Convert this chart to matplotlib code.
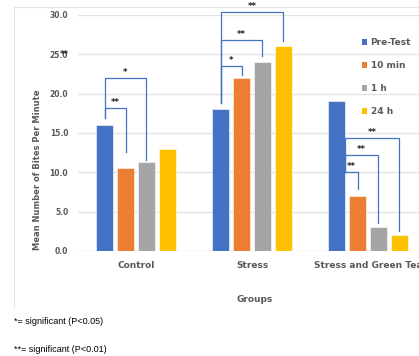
import matplotlib
matplotlib.use("Agg")
import matplotlib.pyplot as plt
from matplotlib.patches import Patch
from matplotlib.lines import Line2D
import numpy as np

groups = ["Control", "Stress", "Stress and Green Tea"]
series = ["Pre-Test", "10 min", "1 h", "24 h"]
pre_test = [16.0, 18.0, 19.1]
min10 = [10.6, 22.0, 7.0]
h1 = [11.3, 24.0, 3.0]
h24 = [13.0, 26.0, 2.0]
yticks = [0.0, 5.0, 10.0, 15.0, 20.0, 25.0, 30.0]
colors = ["#4472C4", "#ED7D31", "#A5A5A5", "#FFC000"]

# significance brackets: (group, target series index, level, label, left_bottom, right_bottom)
brackets = [
    (0, 1, 18.2, "**", 16.9, 12.6),
    (0, 2, 22.0, "*", 16.9, 11.6),
    (1, 1, 23.5, "*", 18.8, 22.4),
    (1, 2, 26.8, "**", 18.8, 24.8),
    (1, 3, 30.4, "**", 18.8, 26.7),
    (2, 1, 10.0, "**", 10.0, 7.9),
    (2, 2, 12.2, "**", 10.0, 3.6),
    (2, 3, 14.4, "**", 10.0, 2.5),
]

W, H = 419, 356
fig = plt.figure(figsize=(W / 100, H / 100), dpi=100)
ax = fig.add_axes([78 / W, 1 - 251 / H, 348 / W, 236 / H])

data = [pre_test, min10, h1, h24]
x = np.arange(len(groups))
stride = 0.181
width = 0.147
offsets = (np.arange(4) - 1.5) * stride
for i, (vals, c) in enumerate(zip(data, colors)):
    ax.bar(x + offsets[i], vals, width=width, color=c, zorder=3,
           edgecolor="white", linewidth=0.4, label=series[i])

ax.set_xlim(-0.5, 2.5)
ax.set_ylim(0, 30)
ax.set_yticks(yticks)
ax.set_yticklabels([f"{v:.1f}" for v in yticks])
ax.grid(axis="y", color="#E3E3E3", linewidth=1.0, zorder=0)
for s in ax.spines.values():
    s.set_visible(False)
ax.tick_params(length=0, labelsize=5.5, labelcolor="#595959")
for lab in ax.get_yticklabels():
    lab.set_fontweight("bold")
ax.tick_params(axis="y", pad=7)
ax.set_xticks(x)
ax.set_xticklabels(groups, fontsize=6.5, fontweight="bold", color="#595959")
ax.tick_params(axis="x", pad=7)

line_c = "#4472C4"
for g, t, lvl, lab, lb, rb in brackets:
    if g == 2:
        xl = x[g] + offsets[0] + width / 2
    else:
        xl = x[g] + offsets[0]
    xr = x[g] + offsets[t]
    ax.plot([xl, xl, xr, xr], [lb, lvl, lvl, rb], color=line_c, lw=0.9,
            clip_on=False, zorder=4)
    ax.text((xl + xr) / 2, lvl + 0.15, lab, ha="center", va="bottom",
            fontsize=6, fontweight="bold", color="#222222", clip_on=False)

# stray asterisks overlapping the 25.0 tick label
ax.text(-0.04, 25.0, "**", transform=ax.get_yaxis_transform(), ha="center",
        va="center", fontsize=6, fontweight="bold", color="#222222")

handles = [Patch(facecolor=c, edgecolor="none") for c in colors]
leg = fig.legend(handles, series, loc="upper left",
                 bbox_to_anchor=(362 / W, 1 - 38 / H), frameon=False,
                 handlelength=0.55, handleheight=0.55, handletextpad=0.4,
                 labelspacing=1.55, borderaxespad=0, borderpad=0,
                 prop={"size": 6.5, "weight": "bold"})
for t in leg.get_texts():
    t.set_color("#595959")

fig.text(37 / W, 1 - 170 / H, "Mean Number of Bites Per Minute", rotation=90,
         ha="center", va="center", fontsize=6, fontweight="bold", color="#595959")
fig.text(255 / W, 1 - 300 / H, "Groups", ha="center", va="center",
         fontsize=6.5, fontweight="bold", color="#595959")

# chart border (left and top)
fig.add_artist(Line2D([14 / W, 14 / W], [1 - 7 / H, 1 - 308 / H],
                      transform=fig.transFigure, color="#E6E6E6", lw=0.8))
fig.add_artist(Line2D([14 / W, 1.0], [1 - 7 / H, 1 - 7 / H],
                      transform=fig.transFigure, color="#E6E6E6", lw=0.8))

fig.text(14 / W, 1 - 321 / H, "*= significant (P<0.05)", ha="left", va="center",
         fontsize=6.5, family="Liberation Sans", color="#000000")
fig.text(14 / W, 1 - 349 / H, "**= significant (P<0.01)", ha="left", va="center",
         fontsize=6.5, family="Liberation Sans", color="#000000")

fig.savefig("out.png", dpi=100)
